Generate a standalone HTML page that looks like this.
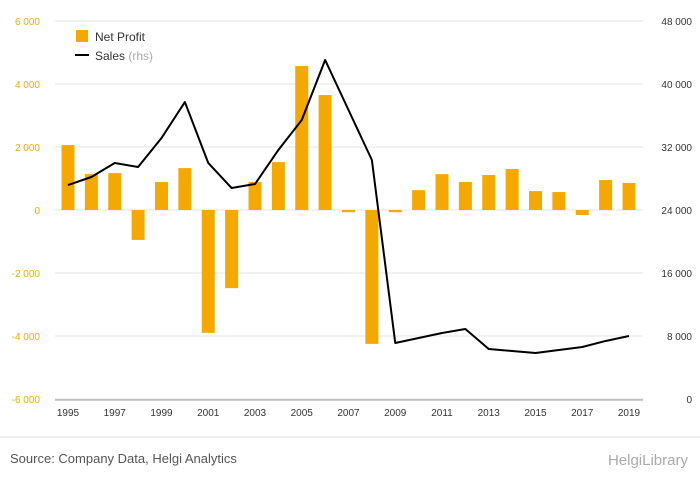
<!DOCTYPE html>
<html><head><meta charset="utf-8"><style>
body{margin:0;background:#fff;width:700px;height:483px;overflow:hidden;font-family:"Liberation Sans",sans-serif}
svg text{font-family:"Liberation Sans",sans-serif}
</style></head><body>
<svg id="chart" width="700" height="483" xmlns="http://www.w3.org/2000/svg">
<rect x="0" y="0" width="700" height="483" fill="#fff"/>
<g id="grid"></g><g id="bars"></g><g id="line"></g><g id="axes"></g>
<g>
<rect x="76" y="30" width="12" height="12" fill="#f5a800"/>
<text x="95" y="41" font-size="12" fill="#333">Net Profit</text>
<line x1="75" y1="55" x2="89" y2="55" stroke="#000" stroke-width="2"/>
<text x="95" y="60" font-size="12" fill="#333">Sales <tspan fill="#aaa">(rhs)</tspan></text>
</g>
<line x1="0" y1="437" x2="700" y2="437" stroke="#ddd"/>
<text x="10" y="463" font-size="13" fill="#555">Source: Company Data, Helgi Analytics</text>
<text x="688" y="465" font-size="15" fill="#aaa" text-anchor="end">HelgiLibrary</text>
</svg>
<script>
const years=[1995,1996,1997,1998,1999,2000,2001,2002,2003,2004,2005,2006,2007,2008,2009,2010,2011,2012,2013,2014,2015,2016,2017,2018,2019];
const netProfit=[2060,1140,1170,-950,890,1330,-3900,-2480,890,1520,4570,3650,-70,-4250,-70,630,1140,890,1110,1300,600,570,-160,950,860];
const sales=[27170,28190,29970,29460,33140,37710,29970,26790,27300,31620,35430,43050,36700,30350,7110,7750,8380,8890,6350,6100,5840,6220,6600,7370,8000];
const leftTicks=[-6000,-4000,-2000,0,2000,4000,6000];
const rightTicks=[0,8000,16000,24000,32000,40000,48000];
const NS="http://www.w3.org/2000/svg";
const yL=v=>210-v/2000*63;
const yR=v=>399-v/8000*63;
const xS=i=>68+i*23.375;
const fmt=v=>{let s=Math.abs(v).toString().replace(/\B(?=(\d{3})+(?!\d))/g,' ');return (v<0?'-':'')+s;};
function mk(tag,attrs,parent){const e=document.createElementNS(NS,tag);for(const k in attrs)e.setAttribute(k,attrs[k]);parent.appendChild(e);return e;}
const grid=document.getElementById('grid'),bars=document.getElementById('bars'),line=document.getElementById('line'),axes=document.getElementById('axes');
leftTicks.forEach((t,i)=>{
  const g=mk('line',{x1:55,x2:643,y1:yL(t),y2:yL(t),stroke:'#e6e6e6'},grid);
  
  
  const tx=mk('text',{x:40,y:yL(t)+4,'font-size':10,fill:'#f5a800','text-anchor':'end'},axes);
  tx.textContent=fmt(t);
  
  
});
rightTicks.forEach(t=>{
  const tx=mk('text',{x:692,y:yR(t)+4,'font-size':10,fill:'#333','text-anchor':'end'},axes);
  tx.textContent=fmt(t);
  
  
});
years.forEach((y,i)=>{
  if(i%2===0){
    const tx=mk('text',{x:xS(i),y:416,'font-size':10,fill:'#333','text-anchor':'middle'},axes);
    tx.textContent=y;
    
    
  }
});
const xl=mk('line',{x1:55,x2:643,y1:400,y2:400,stroke:'#999'},axes);


netProfit.forEach((v,i)=>{
  const y0=yL(0),y1=yL(v);
  const r=mk('rect',{x:xS(i)-6.5,y:Math.min(y0,y1),width:13,height:Math.max(1,Math.abs(y1-y0)),fill:'#f5a800'},bars);
  
  
});
const p=mk('polyline',{points:sales.map((v,i)=>xS(i)+','+yR(v)).join(' '),fill:'none',stroke:'#000','stroke-width':2,'stroke-linejoin':'round'},line);


</script>
</body></html>
